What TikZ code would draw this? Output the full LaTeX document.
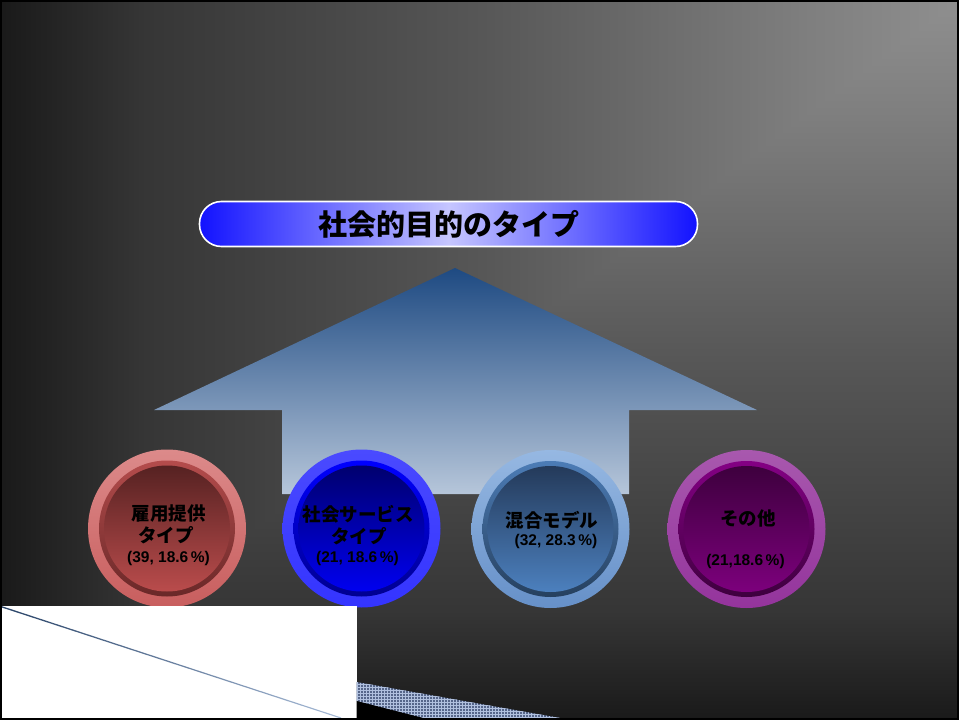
\documentclass[tikz,border=0pt]{standalone}
\usepackage{fontspec}
\setmainfont{Liberation Sans}
\newfontfamily\jp{Noto Sans CJK JP}
\usetikzlibrary{patterns}
\definecolor{bgA}{gray}{0.10}
\definecolor{bgB}{gray}{0.21}
\definecolor{bgC}{gray}{0.34}
\definecolor{bgD}{gray}{0.50}
\definecolor{bgE}{gray}{0.56}
\pgfdeclarehorizontalshading{bghor}{100bp}{color(0bp)=(bgA); color(25bp)=(bgA); color(32.5bp)=(bgB); color(50bp)=(bgC); color(67.5bp)=(bgD); color(75bp)=(bgE); color(100bp)=(bgE)}
\pgfdeclareverticalshading{bgver}{100bp}{color(0bp)=(bgA); color(25bp)=(bgA); color(32.5bp)=(bgB); color(50bp)=(bgC); color(67.5bp)=(bgD); color(75bp)=(bgE); color(100bp)=(bgE)}
\definecolor{houseTop}{HTML}{1E4A82}
\definecolor{houseMid}{HTML}{7C8EAE}
\definecolor{houseBot}{HTML}{B6C6DA}
\definecolor{barEdge}{HTML}{1212FF}
\definecolor{barMid}{HTML}{C6C6FF}
% red
\definecolor{rOutT}{HTML}{DC8A8A}\definecolor{rOutB}{HTML}{C85E5E}
\definecolor{rRingT}{HTML}{B44C4C}\definecolor{rRingB}{HTML}{6A2828}
\definecolor{rInT}{HTML}{562222}\definecolor{rInB}{HTML}{BA4C4C}
% blue
\definecolor{bOutT}{HTML}{4A4AFF}\definecolor{bOutB}{HTML}{3434FF}
\definecolor{bRingT}{HTML}{0000FF}\definecolor{bRingB}{HTML}{000090}
\definecolor{bInT}{HTML}{00006E}\definecolor{bInB}{HTML}{0000F0}
% steel
\definecolor{sOutT}{HTML}{96B8E2}\definecolor{sOutB}{HTML}{6690C8}
\definecolor{sRingT}{HTML}{4C7CB6}\definecolor{sRingB}{HTML}{26405E}
\definecolor{sInT}{HTML}{243A5A}\definecolor{sInB}{HTML}{4C80BE}
% purple
\definecolor{pOutT}{HTML}{A858AE}\definecolor{pOutB}{HTML}{94349C}
\definecolor{pRingT}{HTML}{840084}\definecolor{pRingB}{HTML}{3E003E}
\definecolor{pInT}{HTML}{3E003E}\definecolor{pInB}{HTML}{7C007C}
\definecolor{bandFill}{HTML}{56668A}
\definecolor{bandGrid}{HTML}{B0C0DE}
\definecolor{lineDark}{HTML}{2A4468}
\definecolor{lineLight}{HTML}{A8BCD8}
\tikzset{
  outerdisc/.style={circle, inner sep=0pt, minimum size=158pt, draw=none},
  ringdisc/.style={circle, inner sep=0pt, minimum size=136pt, draw=none},
  innerdisc/.style={circle, inner sep=0pt, minimum size=126pt, draw=none},
  jplabel/.style={font=\jp\bfseries\fontsize{18.5}{20}\selectfont, inner sep=0pt, anchor=base, text=black},
  numlabel/.style={font=\bfseries\fontsize{15.5}{17}\selectfont, inner sep=0pt, anchor=base, text=black},
  titlebar/.style={draw=white, line width=1.6pt, rounded corners=22pt, minimum width=498pt, minimum height=45pt,
    left color=barEdge, right color=barEdge, middle color=barMid, inner sep=0pt,
    font=\jp\bfseries\fontsize{29}{31}\selectfont, text=black},
}
\begin{document}
\begin{tikzpicture}[x=1pt, y=-1pt]
\useasboundingbox (0,0) rectangle (959,720);
% background: rectangular gradient from the top-right corner
\shade[shading=bghor] (0,0) rectangle (959,720);
\shade[shading=bgver] (959,0) -- (959,720) -- (0,720) -- cycle;
% house arrow
\shade[top color=houseTop, middle color=houseMid, bottom color=houseBot]
  (455,268) -- (757,410) -- (629,410) -- (629,494) -- (282,494) -- (282,410) -- (154,410) -- cycle;
% title bar
\node[titlebar] (title) at (448.5,224) {\raisebox{-1pt}{社会的目的のタイプ}};
% red button
\node[outerdisc, top color=rOutT, bottom color=rOutB] (r1) at (167,528.5) {};
\node[ringdisc, top color=rRingT, bottom color=rRingB] (r2) at (r1.center) {};
\node[innerdisc, top color=rInT, bottom color=rInB] (r3) at (r1.center) {};
\node[jplabel] (rt1) at (168.5,520) {雇用提供};
\node[jplabel] (rt2) at (166,542) {タイプ};
\node[numlabel] (rt3) at (168.5,562) {(39, 18.6\,\%)};
% blue button
\node[outerdisc, top color=bOutT, bottom color=bOutB] (b1) at (361.5,528.5) {};
\node[ringdisc, top color=bRingT, bottom color=bRingB] (b2) at (b1.center) {};
\node[innerdisc, top color=bInT, bottom color=bInB] (b3) at (b1.center) {};
\node[jplabel] (bt1) at (358,521) {社会サービス};
\node[jplabel] (bt2) at (359,543) {タイプ};
\node[numlabel] (bt3) at (357.5,562) {(21, 18.6\,\%)};
% steel button
\node[outerdisc, top color=sOutT, bottom color=sOutB] (s1) at (550.5,529) {};
\node[ringdisc, top color=sRingT, bottom color=sRingB] (s2) at (s1.center) {};
\node[innerdisc, top color=sInT, bottom color=sInB] (s3) at (s1.center) {};
\node[jplabel] (st1) at (552,527) {混合モデル};
\node[numlabel] (st2) at (556,545) {(32, 28.3\,\%)};
% purple button
\node[outerdisc, top color=pOutT, bottom color=pOutB] (p1) at (746.5,529) {};
\node[ringdisc, top color=pRingT, bottom color=pRingB] (p2) at (p1.center) {};
\node[innerdisc, top color=pInT, bottom color=pInB] (p3) at (p1.center) {};
\node[jplabel] (pt1) at (748,525) {その他};
\node[numlabel] (pt2) at (745.5,565) {(21,18.6\,\%)};
% bottom-left white panel with thin line
\fill[white] (2,606) rectangle (356.5,718);
\shade[left color=lineDark, right color=lineLight] (2,606.2) -- (341,717.4) -- (341,718.6) -- (2,607.6) -- cycle;
% hatched band
\fill[bandFill] (356.5,682) -- (560,718) -- (423,718) -- (356.5,701) -- cycle;
\fill[pattern=grid, pattern color=bandGrid] (356.5,682) -- (560,718) -- (423,718) -- (356.5,701) -- cycle;
\fill[black] (356.5,701) -- (423,718) -- (356.5,718) -- cycle;
% frame
\draw[black, line width=2pt] (1,1) rectangle (958,719);
\end{tikzpicture}
\end{document}
